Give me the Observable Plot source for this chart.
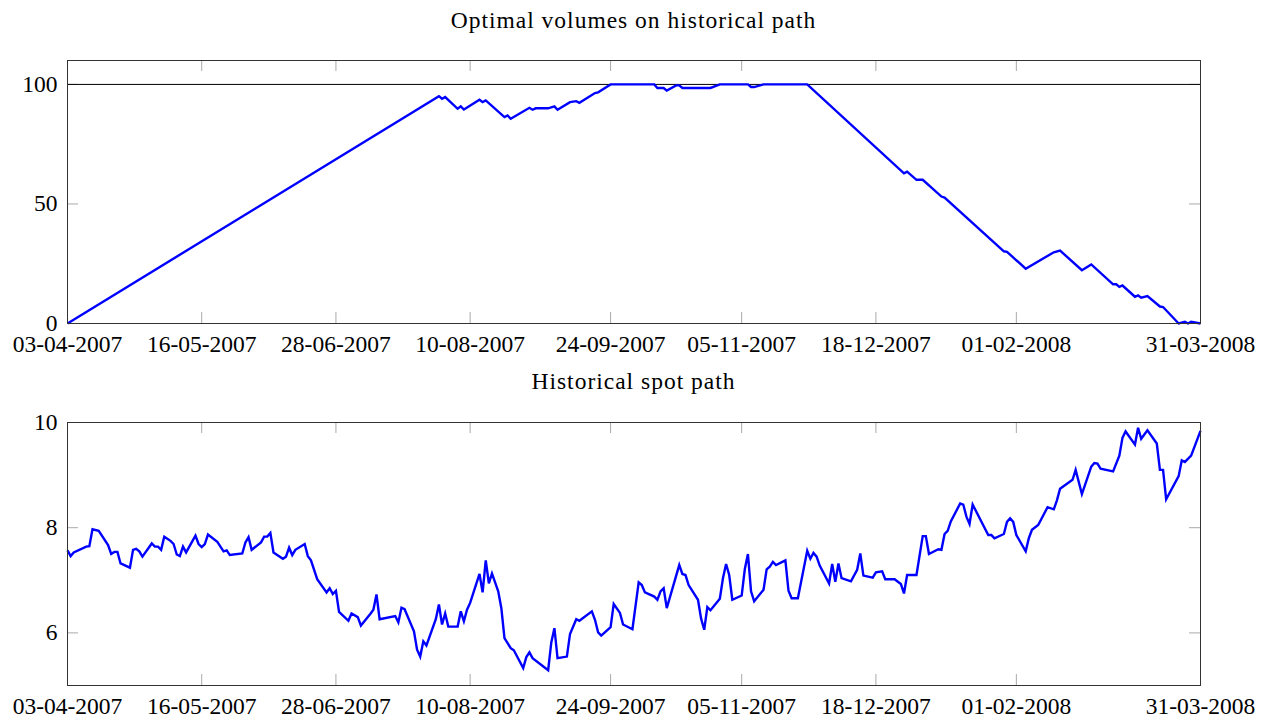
<!DOCTYPE html>
<html>
<head>
<meta charset="utf-8">
<script src="https://cdn.jsdelivr.net/npm/d3@7"></script>
<script src="https://cdn.jsdelivr.net/npm/@observablehq/plot@0.6"></script>
<style>
  html, body { margin: 0; padding: 0; background: #fff; }
  body { width: 1264px; height: 720px; position: relative; overflow: hidden; font-family: "Liberation Serif", serif; }
  .title { position: absolute; left: 67px; width: 1133px; text-align: center; font-size: 23.5px; letter-spacing: 1px; line-height: 26px; color: #000; }
  .chart { position: absolute; left: 0; }
</style>
</head>
<body>
<div class="title" style="top:7px">Optimal volumes on historical path</div>
<div class="chart" id="c1" style="top:40px"></div>
<div class="title" style="top:368px">Historical spot path</div>
<div class="chart" id="c2" style="top:402px"></div>
<script>
// ---- x axis ticks ----
const tickDates = ["2007-04-03","2007-05-16","2007-06-28","2007-08-10","2007-09-24","2007-11-05","2007-12-18","2008-02-01","2008-03-31"];

// ---- top panel: optimal volumes ----
const volumeTicks = [0, 50, 100];
const volumeCap = [100];
const volumeDates = ["2007-04-03","2007-07-31","2007-08-01","2007-08-02","2007-08-06","2007-08-07","2007-08-08","2007-08-13","2007-08-14","2007-08-15","2007-08-21","2007-08-22","2007-08-23","2007-08-29","2007-08-30","2007-08-31","2007-09-04","2007-09-06","2007-09-07","2007-09-11","2007-09-13","2007-09-14","2007-09-19","2007-09-20","2007-09-24","2007-10-08","2007-10-09","2007-10-11","2007-10-12","2007-10-15","2007-10-16","2007-10-17","2007-10-26","2007-10-29","2007-11-07","2007-11-08","2007-11-09","2007-11-12","2007-11-26","2007-12-27","2007-12-28","2007-12-31","2008-01-02","2008-01-08","2008-01-09","2008-01-28","2008-01-29","2008-02-04","2008-02-13","2008-02-15","2008-02-22","2008-02-25","2008-03-03","2008-03-04","2008-03-05","2008-03-06","2008-03-10","2008-03-11","2008-03-12","2008-03-14","2008-03-18","2008-03-19","2008-03-24","2008-03-26","2008-03-27","2008-03-28","2008-03-31"];
const volumeValues = [0,95.1,94.0,94.7,89.8,90.8,89.5,93.6,92.6,93.3,86.3,87.0,85.6,90.2,89.4,90.0,90.0,90.8,89.4,92.6,93.0,92.3,96.4,96.7,100,100,98.5,98.5,97.4,99.6,99.6,98.5,98.5,100,100,98.9,98.9,100,100,62.8,63.5,60.1,60.1,53.1,52.7,30.2,30.0,22.9,29.8,30.5,22.3,24.7,16.4,16.4,15.3,15.9,11.2,11.8,10.8,11.5,7.1,6.9,0,0.7,0,0.7,0];

// ---- bottom panel: historical spot ----
const spotTicks = [6, 8, 10];
const spotDates = [
  "2007-04-03","2007-04-04","2007-04-05","2007-04-09","2007-04-10","2007-04-11","2007-04-13","2007-04-16","2007-04-17","2007-04-18","2007-04-19","2007-04-20","2007-04-23","2007-04-24","2007-04-25","2007-04-26","2007-04-27","2007-04-30",
  "2007-05-01","2007-05-02","2007-05-03","2007-05-04","2007-05-06","2007-05-07","2007-05-08","2007-05-09","2007-05-10","2007-05-11","2007-05-14","2007-05-15","2007-05-16","2007-05-17","2007-05-18","2007-05-21","2007-05-23","2007-05-24","2007-05-25","2007-05-29","2007-05-30","2007-05-31",
  "2007-06-01","2007-06-04","2007-06-05","2007-06-06","2007-06-07","2007-06-08","2007-06-11","2007-06-12","2007-06-13","2007-06-14","2007-06-15","2007-06-18","2007-06-19","2007-06-20","2007-06-22","2007-06-25","2007-06-26","2007-06-27","2007-06-28","2007-06-29",
  "2007-07-02","2007-07-03","2007-07-05","2007-07-06","2007-07-09","2007-07-10","2007-07-11","2007-07-12","2007-07-17","2007-07-18","2007-07-19","2007-07-20","2007-07-23","2007-07-24","2007-07-25","2007-07-26","2007-07-27","2007-07-30","2007-07-31",
  "2007-08-01","2007-08-02","2007-08-03","2007-08-06","2007-08-07","2007-08-08","2007-08-09","2007-08-10","2007-08-13","2007-08-14","2007-08-15","2007-08-16","2007-08-17","2007-08-19","2007-08-20","2007-08-21","2007-08-23","2007-08-24","2007-08-27","2007-08-28","2007-08-29","2007-08-30",
  "2007-09-04","2007-09-05","2007-09-06","2007-09-07","2007-09-10","2007-09-11","2007-09-13","2007-09-14","2007-09-18","2007-09-19","2007-09-20","2007-09-21","2007-09-24","2007-09-25","2007-09-27","2007-09-28",
  "2007-10-01","2007-10-03","2007-10-04","2007-10-05","2007-10-08","2007-10-09","2007-10-10","2007-10-11","2007-10-12","2007-10-16","2007-10-17","2007-10-18","2007-10-19","2007-10-22","2007-10-23","2007-10-24","2007-10-25","2007-10-26","2007-10-29","2007-10-30","2007-10-31",
  "2007-11-01","2007-11-02","2007-11-05","2007-11-06","2007-11-07","2007-11-08","2007-11-09","2007-11-12","2007-11-13","2007-11-14","2007-11-15","2007-11-16","2007-11-19","2007-11-20","2007-11-21","2007-11-23","2007-11-26","2007-11-27","2007-11-28","2007-11-29","2007-11-30",
  "2007-12-03","2007-12-04","2007-12-05","2007-12-06","2007-12-07","2007-12-10","2007-12-12","2007-12-13","2007-12-14","2007-12-17","2007-12-18","2007-12-20","2007-12-21","2007-12-24","2007-12-26","2007-12-27","2007-12-28","2007-12-31",
  "2008-01-02","2008-01-03","2008-01-04","2008-01-07","2008-01-08","2008-01-09","2008-01-10","2008-01-11","2008-01-14","2008-01-15","2008-01-16","2008-01-17","2008-01-18","2008-01-23","2008-01-24","2008-01-25","2008-01-28","2008-01-29","2008-01-30","2008-01-31",
  "2008-02-01","2008-02-04","2008-02-05","2008-02-06","2008-02-08","2008-02-11","2008-02-13","2008-02-14","2008-02-15","2008-02-19","2008-02-20","2008-02-22","2008-02-25","2008-02-26","2008-02-27","2008-02-28",
  "2008-03-03","2008-03-05","2008-03-06","2008-03-07","2008-03-10","2008-03-11","2008-03-12","2008-03-14","2008-03-17","2008-03-18","2008-03-19","2008-03-20","2008-03-24","2008-03-25","2008-03-26","2008-03-28","2008-03-31"
];
const spotValues = [
  7.57,7.46,7.53,7.64,7.65,7.97,7.94,7.67,7.50,7.54,7.54,7.32,7.24,7.58,7.60,7.55,7.45,7.70,
  7.64,7.64,7.58,7.83,7.75,7.69,7.49,7.46,7.64,7.53,7.85,7.69,7.63,7.69,7.87,7.73,7.55,7.57,7.48,7.51,7.72,7.82,
  7.58,7.72,7.83,7.83,7.90,7.53,7.41,7.45,7.62,7.48,7.58,7.69,7.46,7.38,7.02,6.77,6.85,6.74,6.80,6.40,
  6.23,6.37,6.30,6.14,6.36,6.44,6.73,6.26,6.32,6.20,6.48,6.45,6.03,5.68,5.55,5.84,5.76,6.26,6.54,
  6.16,6.37,6.12,6.12,6.41,6.22,6.44,6.57,7.12,6.77,7.38,6.94,7.13,6.79,6.47,5.90,5.71,5.67,5.33,5.54,5.63,5.52,
  5.29,5.82,6.09,5.52,5.55,5.98,6.26,6.23,6.41,6.25,6.01,5.95,6.11,6.55,6.38,6.16,
  6.07,6.96,6.91,6.77,6.69,6.63,6.79,6.85,6.47,7.29,7.12,7.10,6.91,6.63,6.27,6.06,6.49,6.43,6.65,7.04,7.31,
  7.10,6.63,6.71,7.21,7.50,6.79,6.60,6.82,7.21,7.26,7.35,7.29,7.38,6.80,6.66,6.66,7.56,7.41,7.52,7.45,7.28,
  6.94,7.31,6.97,7.32,7.04,6.98,7.20,7.51,7.09,7.05,7.15,7.17,7.02,7.02,6.93,6.75,7.10,7.10,
  7.84,7.84,7.50,7.59,7.58,7.88,7.94,8.12,8.46,8.44,8.21,8.07,8.44,7.86,7.86,7.80,7.88,8.11,8.18,8.11,
  7.86,7.55,7.80,7.96,8.05,8.39,8.35,8.52,8.74,8.91,9.10,8.64,9.16,9.23,9.22,9.12,
  9.07,9.37,9.71,9.83,9.58,9.90,9.69,9.85,9.60,9.10,9.10,8.54,8.98,9.28,9.25,9.37,9.84
];

// ---- drawing ----
const parse = d3.utcParse("%Y-%m-%d");
const fmt = d3.utcFormat("%d-%m-%Y");
const xTicks = tickDates.map(parse);
const W = 1264, ML = 67, MR = 64;
const innerW = W - ML - MR;
const TICK = 11;

function panel({dates, values, yDomain, yTicks, height, marginTop, marginBottom, extra = []}) {
  const data = dates.map((d, i) => ({date: parse(d), value: values[i]}));
  const innerH = height - marginTop - marginBottom;
  return Plot.plot({
    width: W, height, marginLeft: ML, marginRight: MR, marginTop, marginBottom,
    style: {fontFamily: "'Liberation Serif', serif", fontSize: "23.5px", color: "#000", background: "#fff", overflow: "visible"},
    x: {type: "utc", domain: [xTicks[0], xTicks[xTicks.length - 1]], label: null},
    y: {domain: yDomain, label: null},
    marks: [
      Plot.ruleX(xTicks, {x: d => d, stroke: "#aaa", strokeWidth: 1, insetTop: innerH - TICK}),
      Plot.ruleX(xTicks, {x: d => d, stroke: "#aaa", strokeWidth: 1, insetBottom: innerH - TICK}),
      Plot.ruleY(yTicks, {y: d => d, stroke: "#aaa", strokeWidth: 1, insetRight: innerW - TICK}),
      Plot.ruleY(yTicks, {y: d => d, stroke: "#aaa", strokeWidth: 1, insetLeft: innerW - TICK}),
      ...extra,
      Plot.line(data, {x: "date", y: "value", stroke: "#0000ff", strokeWidth: 2.4, strokeLinejoin: "miter", strokeMiterlimit: 4, strokeLinecap: "butt"}),
      Plot.frame({stroke: "#333", strokeWidth: 1}),
      Plot.axisX(xTicks, {tickSize: 0, tickPadding: 12, tickFormat: fmt, fill: "#000", label: null}),
      Plot.axisY(yTicks, {tickSize: 0, tickPadding: 10, tickFormat: d3.format("d"), fill: "#000", label: null})
    ]
  });
}

document.getElementById("c1").append(panel({
  dates: volumeDates, values: volumeValues, yDomain: [0, 110], yTicks: volumeTicks,
  height: 323, marginTop: 20, marginBottom: 40,
  extra: [Plot.ruleY(volumeCap, {y: d => d, stroke: "#000", strokeWidth: 1})]
}));

document.getElementById("c2").append(panel({
  dates: spotDates, values: spotValues, yDomain: [5, 10], yTicks: spotTicks,
  height: 318, marginTop: 20, marginBottom: 35
}));
</script>
</body>
</html>
